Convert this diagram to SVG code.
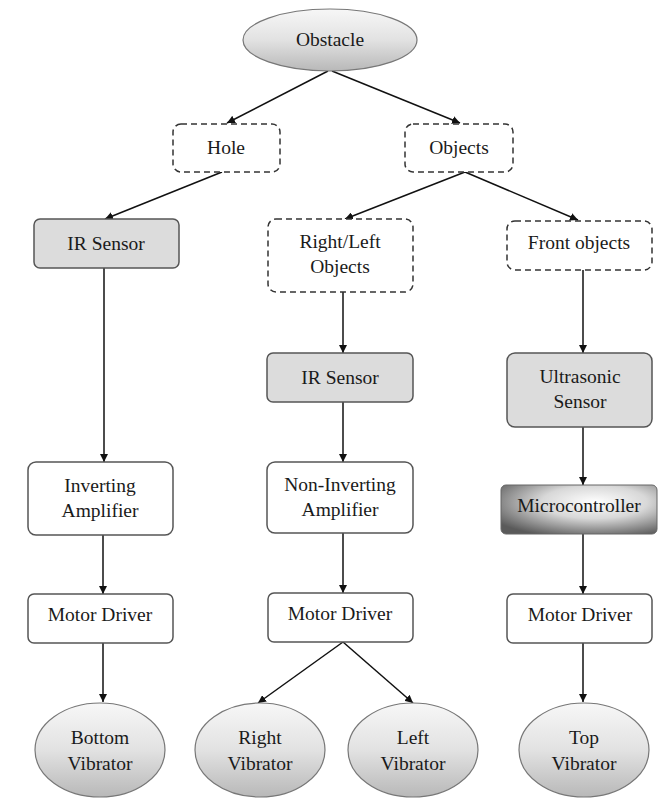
<svg xmlns="http://www.w3.org/2000/svg" width="662" height="798" viewBox="0 0 662 798" font-family="'Times New Roman', 'Liberation Serif', 'DejaVu Serif', serif">
<style>
text{font-family:'Times New Roman','Liberation Serif','DejaVu Serif',serif;font-size:19.5px;fill:#1a1a1a;text-anchor:middle}
.dash{fill:#fff;stroke:#333;stroke-width:1.5;stroke-dasharray:6,4}
.gray{fill:#dcdcdc;stroke:#555;stroke-width:1.5}
.white{fill:#fff;stroke:#555;stroke-width:1.5}
.ell{fill:url(#eg);stroke:#777;stroke-width:1.2}
.c{stroke:#111;stroke-width:1.5;fill:none;marker-end:url(#ah)}
</style>
<defs>
<marker id="ah" viewBox="0 0 10 10" refX="10" refY="5" markerWidth="8" markerHeight="8" markerUnits="userSpaceOnUse" orient="auto">
<path d="M0,0 L10,5 L0,10 z" fill="#111"/>
</marker>
<linearGradient id="eg" x1="0" y1="0" x2="0" y2="1">
<stop offset="0" stop-color="#f7f7f7"/>
<stop offset="0.5" stop-color="#e2e2e2"/>
<stop offset="1" stop-color="#b8b8b8"/>
</linearGradient>
<radialGradient id="mg" cx="0.6" cy="0.35" r="0.75">
<stop offset="0" stop-color="#ffffff"/>
<stop offset="0.45" stop-color="#d8d8d8"/>
<stop offset="1" stop-color="#5a5a5a"/>
</radialGradient>
</defs>
<rect width="662" height="798" fill="#fff"/>
<g id="connectors">
<line class="c" x1="328" y1="71" x2="227" y2="123"/>
<line class="c" x1="332" y1="71" x2="460" y2="123"/>
<line class="c" x1="222" y1="172" x2="105" y2="219"/>
<line class="c" x1="465" y1="172" x2="345" y2="219"/>
<line class="c" x1="465" y1="172" x2="578" y2="220"/>
<line class="c" x1="104" y1="268" x2="104" y2="462"/>
<line class="c" x1="103" y1="535" x2="103" y2="594"/>
<line class="c" x1="103" y1="643" x2="103" y2="702"/>
<line class="c" x1="343" y1="292" x2="343" y2="353"/>
<line class="c" x1="343" y1="402" x2="343" y2="462"/>
<line class="c" x1="343" y1="533" x2="343" y2="593"/>
<line class="c" x1="343" y1="642" x2="258" y2="703"/>
<line class="c" x1="343" y1="642" x2="413" y2="703"/>
<line class="c" x1="583" y1="270" x2="583" y2="353"/>
<line class="c" x1="583" y1="427" x2="583" y2="485"/>
<line class="c" x1="583" y1="534" x2="583" y2="594"/>
<line class="c" x1="583" y1="643" x2="583" y2="702"/>
</g>
<g id="obstacle"><ellipse class="ell" cx="330" cy="40" rx="87" ry="31"/><text x="330" y="46">Obstacle</text></g>
<g id="hole"><rect class="dash" x="173" y="124" width="107" height="48" rx="8"/><text x="226" y="154">Hole</text></g>
<g id="objects"><rect class="dash" x="405" y="124" width="108" height="48" rx="8"/><text x="459" y="154">Objects</text></g>
<g id="ir1"><rect class="gray" x="34" y="219" width="145" height="49" rx="6"/><text x="106" y="250">IR Sensor</text></g>
<g id="rlobjects"><rect class="dash" x="268" y="219" width="145" height="73" rx="8"/><text x="340" y="248">Right/Left</text><text x="340" y="273">Objects</text></g>
<g id="front"><rect class="dash" x="507" y="221" width="145" height="49" rx="8"/><text x="579" y="249">Front objects</text></g>
<g id="ir2"><rect class="gray" x="267" y="353" width="146" height="49" rx="6"/><text x="340" y="384">IR Sensor</text></g>
<g id="ultrasonic"><rect class="gray" x="507" y="353" width="145" height="74" rx="8"/><text x="580" y="383">Ultrasonic</text><text x="580" y="408">Sensor</text></g>
<g id="inverting"><rect class="white" x="28" y="462" width="145" height="73" rx="8"/><text x="100" y="492">Inverting</text><text x="100" y="517">Amplifier</text></g>
<g id="noninverting"><rect class="white" x="267" y="462" width="146" height="71" rx="8"/><text x="340" y="491">Non-Inverting</text><text x="340" y="516">Amplifier</text></g>
<g id="micro"><rect x="501" y="485" width="156" height="49" rx="5" fill="url(#mg)" stroke="#666" stroke-width="1"/><text x="579" y="512">Microcontroller</text></g>
<g id="md1"><rect class="white" x="28" y="594" width="145" height="49" rx="6"/><text x="100" y="621">Motor Driver</text></g>
<g id="md2"><rect class="white" x="268" y="593" width="145" height="49" rx="6"/><text x="340" y="620">Motor Driver</text></g>
<g id="md3"><rect class="white" x="507" y="594" width="145" height="49" rx="6"/><text x="580" y="621">Motor Driver</text></g>
<g id="bottomvib"><ellipse class="ell" cx="100" cy="750" rx="65" ry="47"/><text x="100" y="744">Bottom</text><text x="100" y="770">Vibrator</text></g>
<g id="rightvib"><ellipse class="ell" cx="260" cy="750" rx="65" ry="47"/><text x="260" y="744">Right</text><text x="260" y="770">Vibrator</text></g>
<g id="leftvib"><ellipse class="ell" cx="413" cy="750" rx="65" ry="47"/><text x="413" y="744">Left</text><text x="413" y="770">Vibrator</text></g>
<g id="topvib"><ellipse class="ell" cx="584" cy="750" rx="65" ry="47"/><text x="584" y="744">Top</text><text x="584" y="770">Vibrator</text></g>
</svg>
